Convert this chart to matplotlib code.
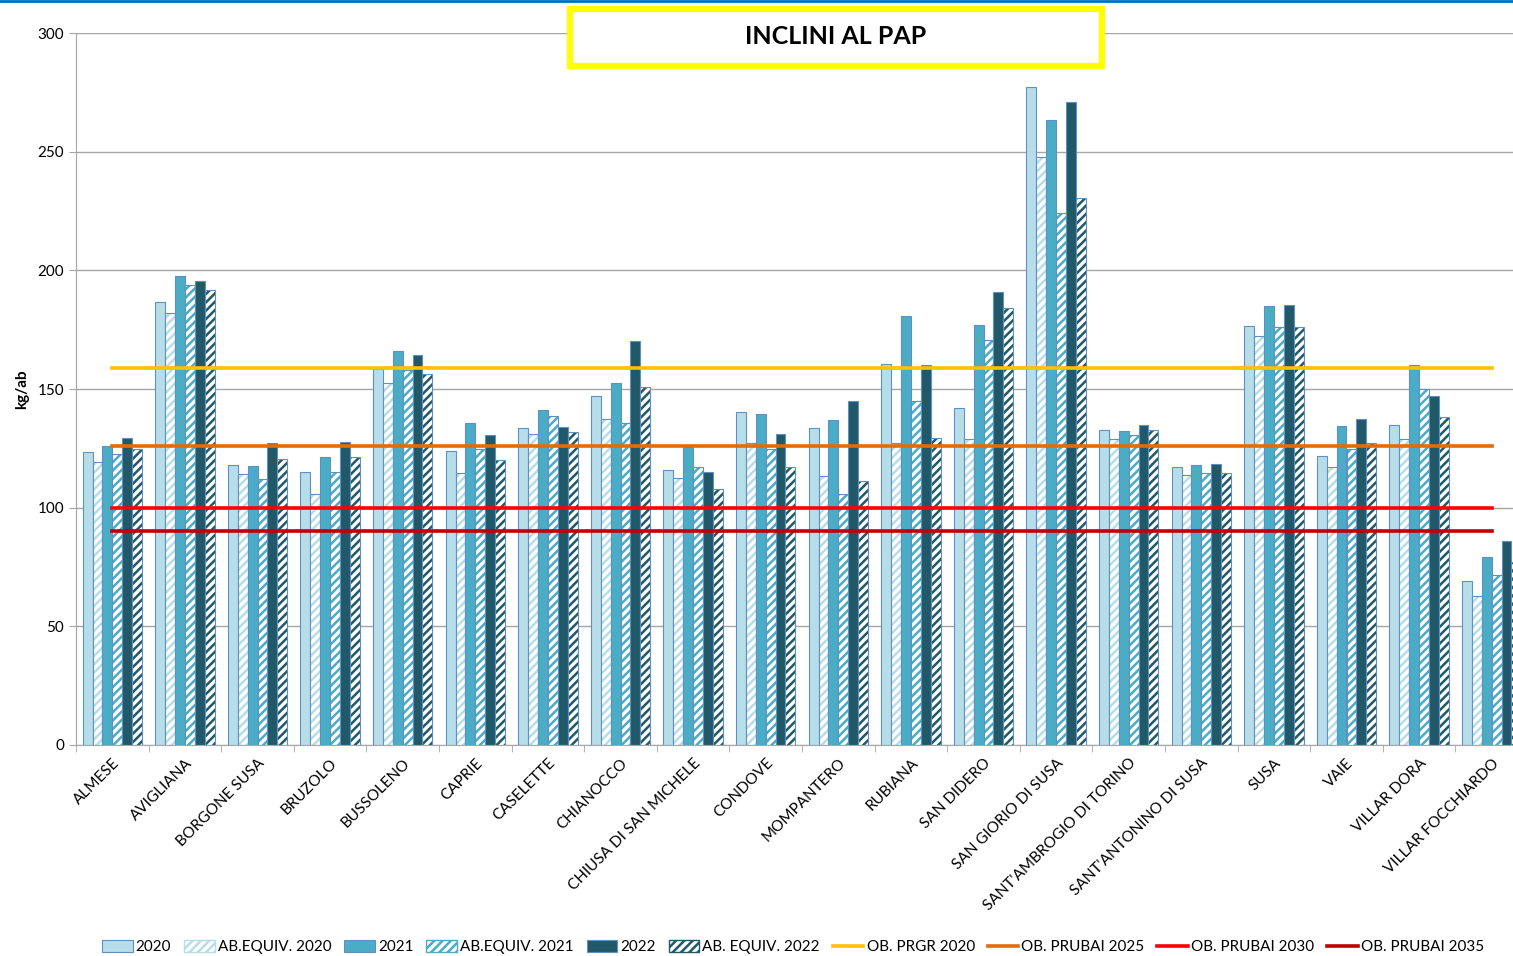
import numpy as np
import matplotlib.pyplot as plt
from matplotlib.patches import Patch, Rectangle
from matplotlib.lines import Line2D

plt.rcParams['font.family'] = ['Lato', 'DejaVu Sans']
plt.rcParams['hatch.linewidth'] = 1.8

comuni = ['ALMESE', 'AVIGLIANA', 'BORGONE SUSA', 'BRUZOLO', 'BUSSOLENO', 'CAPRIE',
          'CASELETTE', 'CHIANOCCO', 'CHIUSA DI SAN MICHELE', 'CONDOVE', 'MOMPANTERO',
          'RUBIANA', 'SAN DIDERO', 'SAN GIORIO DI SUSA', "SANT'AMBROGIO DI TORINO",
          "SANT'ANTONINO DI SUSA", 'SUSA', 'VAIE', 'VILLAR DORA', 'VILLAR FOCCHIARDO']

v2020 = [123.6, 186.8, 118.0, 114.9, 158.5, 124.0, 133.7, 147.1, 116.0, 140.3,
         133.7, 160.4, 141.8, 277.1, 132.6, 117.3, 176.6, 121.8, 134.8, 69.2]
ab2020 = [119.4, 182.2, 114.1, 105.9, 152.4, 114.5, 131.0, 137.2, 112.3, 127.4,
          113.2, 127.4, 128.8, 247.9, 128.8, 113.7, 172.3, 117.0, 128.9, 62.8]
v2021 = [126.1, 197.5, 117.7, 121.3, 166.2, 135.7, 141.3, 152.4, 125.5, 139.6,
         137.1, 180.7, 176.9, 263.2, 132.4, 118.0, 184.9, 134.6, 160.1, 79.1]
ab2021 = [122.6, 193.8, 111.9, 115.2, 158.0, 124.6, 138.6, 135.5, 117.0, 124.9,
          105.6, 144.9, 170.5, 224.1, 130.5, 114.4, 176.2, 124.7, 150.0, 71.5]
v2022 = [129.5, 195.5, 127.1, 127.8, 164.5, 130.5, 134.1, 170.1, 115.2, 131.2,
         144.9, 160.2, 191.0, 271.0, 134.8, 118.4, 185.4, 137.2, 146.9, 86.0]
ab2022 = [124.7, 191.9, 120.4, 121.2, 156.5, 120.0, 132.0, 151.0, 107.9, 117.3,
          111.1, 129.2, 184.0, 230.6, 132.6, 114.8, 176.2, 127.4, 138.1, 77.0]

obiettivi = [('OB. PRGR 2020', 159, '#FFC000'),
             ('OB. PRUBAI 2025', 126, '#E36C09'),
             ('OB. PRUBAI 2030', 100, '#FF0000'),
             ('OB. PRUBAI 2035', 90, '#C00000')]

serie = [('2020', v2020, '#B7DEE8', None),
         ('AB.EQUIV. 2020', ab2020, '#B7DEE8', '////'),
         ('2021', v2021, '#4BACC6', None),
         ('AB.EQUIV. 2021', ab2021, '#4BACC6', '////'),
         ('2022', v2022, '#215968', None),
         ('AB. EQUIV. 2022', ab2022, '#215968', '////')]

W, H = 1513, 956
fig = plt.figure(figsize=(W / 100, H / 100), dpi=100)
ax = fig.add_axes([76 / W, 1 - 745 / H, 1452 / W, 712 / H])

x = np.arange(len(comuni))
w = 0.136
bordo = '#5E8FC6'
handles = []
for i, (nome, val, col, hatch) in enumerate(serie):
    pos = x + (i - 2.5) * w
    if hatch is None:
        ax.bar(pos, val, w, color=col, edgecolor=bordo, linewidth=0.8, zorder=2)
        handles.append(Patch(facecolor=col, edgecolor=bordo, linewidth=0.8, label=nome))
    else:
        ax.bar(pos, val, w, color='white', edgecolor=col, hatch=hatch, linewidth=0, zorder=2)
        ax.bar(pos, val, w, fill=False, edgecolor=bordo, linewidth=0.8, zorder=2)
        handles.append(Patch(facecolor='white', edgecolor=col, hatch=hatch, label=nome))

for nome, val, col in obiettivi:
    ax.plot([0, len(comuni) - 1], [val, val], color=col, linewidth=2.6, zorder=3)
    handles.append(Line2D([], [], color=col, linewidth=2.6, label=nome))

ax.set_xlim(-0.5, len(comuni) - 0.5)
ax.set_ylim(0, 300)
ax.set_yticks(np.arange(0, 301, 50))
ax.yaxis.grid(True, color='#A6A6A6', linewidth=1, zorder=0)
ax.set_axisbelow(True)
ax.set_xticks(x)
ax.set_xticklabels(comuni, rotation=45, ha='right', rotation_mode='anchor', fontsize=11)
ax.set_xticks(np.arange(-0.5, len(comuni)), minor=True)
ax.tick_params(axis='x', which='major', length=0, pad=8)
ax.tick_params(axis='x', which='minor', length=5, color='#A6A6A6')
ax.tick_params(axis='y', length=5, color='#A6A6A6', labelsize=11)
for s in ['top', 'right']:
    ax.spines[s].set_visible(False)
for s in ['left', 'bottom']:
    ax.spines[s].set_color('#A6A6A6')
ax.set_ylabel('kg/ab', fontsize=11, fontweight='bold', labelpad=6)

# riquadro titolo
fig.add_artist(Rectangle((570 / W, 1 - 66 / H), 532 / W, 57 / H, transform=fig.transFigure,
                         facecolor='white', edgecolor='#FFFF00', linewidth=4.5, zorder=5))
fig.text(836 / W, 1 - 37 / H, 'INCLINI AL PAP', ha='center', va='center',
         fontsize=18, fontweight='bold', zorder=6)

fig.legend(handles=handles, loc='center', bbox_to_anchor=(793 / W, 1 - 947 / H), ncol=10,
           frameon=False, fontsize=11, handlelength=2.0, handletextpad=0.2,
           columnspacing=0.85, handleheight=0.8, borderpad=0.1)
fig.add_artist(Line2D([0, 1], [0.999, 0.999], color='#0070C0', linewidth=2,
                      transform=fig.transFigure))

fig.savefig('out.png', dpi=100)
